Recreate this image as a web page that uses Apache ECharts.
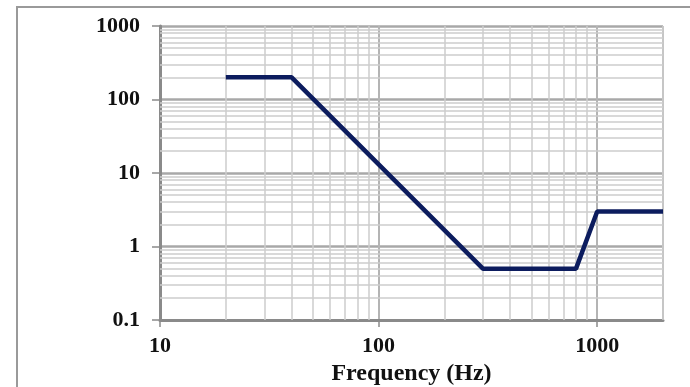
<!DOCTYPE html>
<html>
<head>
<meta charset="utf-8">
<script src="https://cdn.jsdelivr.net/npm/echarts@6/dist/echarts.min.js"></script>
<style>html,body{margin:0;padding:0;background:#fff;}#c{width:690px;height:387px;}</style>
</head>
<body>
<div id="c"></div>
<script>
const freqHz = [20, 40, 300, 800, 1000, 2000];
const level = [200, 200, 0.5, 0.5, 3, 3];
const xMinor = [20, 30, 40, 50, 60, 70, 80, 90, 200, 300, 400, 500, 600, 700, 800, 900, 2000];
const yMinor = [0.2, 0.3, 0.4, 0.5, 0.6, 0.7, 0.8, 0.9, 2, 3, 4, 5, 6, 7, 8, 9, 20, 30, 40, 50, 60, 70, 80, 90, 200, 300, 400, 500, 600, 700, 800, 900];
const xAxisName = 'Frequency (Hz)';

const chart = echarts.init(document.getElementById('c'));
const font = 'Liberation Serif';
function isPow10(v){ const l = Math.log10(v); return Math.abs(l - Math.round(l)) < 1e-6; }
function fmt(v){ if(!isPow10(v)) return ''; const p = Math.round(Math.log10(v)); return p < 0 ? String(Math.pow(10,p).toFixed(-p)) : String(Math.pow(10,p)); }

const minorLines = [];
xMinor.forEach(v => minorLines.push({xAxis: v}));
yMinor.forEach(v => minorLines.push({yAxis: v}));

chart.setOption({
  animation: false,
  backgroundColor: '#fff',
  graphic: [{
    type: 'rect', shape: {x: 17, y: 7, width: 700, height: 400},
    style: {fill: 'none', stroke: '#9a9a9a', lineWidth: 2}, z: -10
  }],
  grid: {left: 160, right: 27, top: 26, bottom: 67, containLabel: false, outerBoundsMode: 'none'},
  xAxis: {
    type: 'log', logBase: 10, min: 10, max: 2000,
    name: xAxisName, nameLocation: 'middle', nameGap: 36,
    nameTextStyle: {fontFamily: font, fontWeight: 'bold', fontSize: 24, color: '#111'},
    axisLine: {show: true, lineStyle: {color: '#8a8a8a', width: 3}},
    axisTick: {show: true, length: 7, lineStyle: {color: '#8a8a8a', width: 1.5}},
    axisLabel: {formatter: fmt, fontFamily: font, fontWeight: 'bold', fontSize: 22, color: '#111', margin: 15, showMaxLabel: false},
    splitLine: {show: true, lineStyle: {color: '#b4b4b4', width: 2}},
    minorSplitLine: {show: false}
  },
  yAxis: {
    type: 'log', logBase: 10, min: 0.1, max: 1000,
    axisLine: {show: true, lineStyle: {color: '#8a8a8a', width: 3}},
    axisTick: {show: true, length: 8, lineStyle: {color: '#8a8a8a', width: 1.5}},
    axisLabel: {formatter: fmt, fontFamily: font, fontWeight: 'bold', fontSize: 22, color: '#111', margin: 20},
    splitLine: {show: true, lineStyle: {color: '#a8a8a8', width: 2.5}}
  },
  series: [{
    type: 'line',
    data: freqHz.map((f, i) => [f, level[i]]),
    symbol: 'none',
    lineStyle: {color: '#0c1c5e', width: 4.5},
    z: 5,
    markLine: {
      silent: true, symbol: 'none', label: {show: false},
      lineStyle: {color: '#cdcdcd', width: 1.5, type: 'solid'},
      data: minorLines, z: 1
    }
  }]
});
</script>
</body>
</html>
